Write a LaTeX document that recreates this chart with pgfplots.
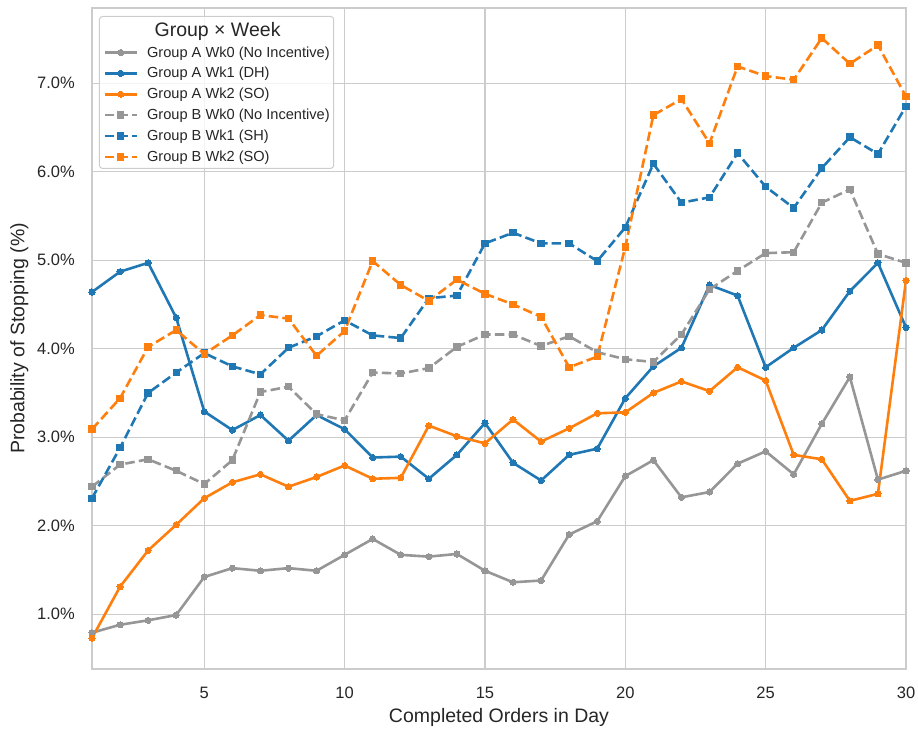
\documentclass[border=0pt]{standalone}
\usepackage{fontspec}
\setmainfont{Liberation Sans}
\usepackage{pgfplots}
\pgfplotsset{compat=1.18}
\usepackage{pgfplotstable}
\definecolor{cblue}{HTML}{1F77B4}
\definecolor{corange}{HTML}{FF7F0E}
\definecolor{cgray}{HTML}{969696}
\definecolor{gridc}{HTML}{CCCCCC}
\definecolor{txt}{HTML}{262626}

\pgfplotstableread{
x  a0   a1   a2   b0   b1   b2
1  0.79 4.64 0.73 2.44 2.31 3.09
2  0.88 4.87 1.31 2.69 2.88 3.44
3  0.93 4.97 1.72 2.75 3.50 4.02
4  0.99 4.35 2.01 2.62 3.73 4.21
5  1.42 3.29 2.31 2.47 3.95 3.94
6  1.52 3.08 2.49 2.74 3.80 4.15
7  1.49 3.25 2.58 3.51 3.71 4.38
8  1.52 2.96 2.44 3.57 4.01 4.34
9  1.49 3.25 2.55 3.26 4.14 3.92
10 1.67 3.09 2.68 3.19 4.32 4.20
11 1.85 2.77 2.53 3.73 4.15 4.99
12 1.67 2.78 2.54 3.72 4.12 4.72
13 1.65 2.53 3.13 3.78 4.57 4.54
14 1.68 2.80 3.01 4.02 4.60 4.78
15 1.49 3.16 2.93 4.16 5.19 4.62
16 1.36 2.71 3.20 4.16 5.31 4.50
17 1.38 2.51 2.95 4.03 5.19 4.36
18 1.90 2.80 3.10 4.14 5.19 3.79
19 2.05 2.87 3.27 3.96 4.99 3.91
20 2.56 3.44 3.28 3.88 5.37 5.15
21 2.74 3.80 3.50 3.85 6.09 6.64
22 2.32 4.01 3.63 4.16 5.65 6.82
23 2.38 4.72 3.52 4.67 5.71 6.32
24 2.70 4.60 3.79 4.88 6.21 7.19
25 2.84 3.79 3.64 5.08 5.83 7.08
26 2.58 4.01 2.80 5.09 5.59 7.04
27 3.15 4.21 2.75 5.65 6.04 7.51
28 3.68 4.65 2.28 5.80 6.39 7.22
29 2.52 4.97 2.36 5.07 6.20 7.43
30 2.62 4.24 4.77 4.97 6.74 6.85
}\datatab

\begin{document}
\begin{tikzpicture}
\begin{axis}[
  at={(0,0)}, anchor=south west,
  scale only axis, width=814pt, height=661pt,
  xmin=1, xmax=30, ymin=0.38, ymax=7.85,
  xtick={5,10,15,20,25,30},
  xticklabels={5,10,15,20,25,30},
  ytick={1,2,3,4,5,6,7},
  yticklabels={1.0\%,2.0\%,3.0\%,4.0\%,5.0\%,6.0\%,7.0\%},
  major tick length=0pt,
  grid=major,
  grid style={gridc, line width=1.2pt},
  axis line style={gridc, line width=1.2pt},
  tick label style={font=\fontsize{16.5}{20}\selectfont, text=txt},
  yticklabel style={anchor=east, inner sep=0pt, xshift=-17pt},
  xticklabel style={anchor=north, inner sep=0pt, yshift=-18pt},
  xlabel={Completed Orders in Day},
  ylabel={Probability of Stopping (\%)},
  every axis x label/.style={at={(axis description cs:0.5,0)}, anchor=north, inner sep=0pt, yshift=-39pt, font=\fontsize{19.5}{23}\selectfont, text=txt},
  every axis y label/.style={at={(axis description cs:-0.1007,0.5)}, rotate=90, anchor=north, inner sep=0pt, font=\fontsize{19.5}{23}\selectfont, text=txt},
  legend cell align=left,
  legend style={
    at={(axis description cs:0,1)}, anchor=north west, xshift=7pt, yshift=-8pt,
    draw=gridc, line width=1pt, rounded corners=3pt,
    fill=white, fill opacity=0.8, draw opacity=1, text opacity=1,
    font=\fontsize{14.6}{17}\selectfont, text=txt,
    inner xsep=4pt, inner ysep=5.5pt,
    row sep=8.8pt, column sep=9pt,
    nodes={inner sep=0pt},
  },
  legend image code/.code={
    \draw[#1, fill opacity=1, mark repeat=2, mark phase=2] plot coordinates {(0pt,0pt) (16pt,0pt) (32pt,0pt)};
  },
  every axis plot/.append style={line width=2.6pt, line join=round},
]
\addlegendimage{empty legend}
\addlegendentry{\hspace{7.5pt}\fontsize{19.5}{23}\selectfont Group × Week\rule[-6.5pt]{0pt}{1pt}}

\addplot[cgray, mark=*, mark size=3.1pt, mark options={solid, line width=0pt}] table[x=x,y=a0]{\datatab};
\addlegendentry{Group A Wk0 (No Incentive)}
\addplot[cblue, mark=*, mark size=3.1pt, mark options={solid, line width=0pt}] table[x=x,y=a1]{\datatab};
\addlegendentry{Group A Wk1 (DH)}
\addplot[corange, mark=*, mark size=3.1pt, mark options={solid, line width=0pt}] table[x=x,y=a2]{\datatab};
\addlegendentry{Group A Wk2 (SO)}
\addplot[cgray, dash pattern=on 9.5pt off 4.2pt, mark=square*, mark size=3.2pt, mark options={solid, line width=0pt}] table[x=x,y=b0]{\datatab};
\addlegendentry{Group B Wk0 (No Incentive)}
\addplot[cblue, dash pattern=on 9.5pt off 4.2pt, mark=square*, mark size=3.2pt, mark options={solid, line width=0pt}] table[x=x,y=b1]{\datatab};
\addlegendentry{Group B Wk1 (SH)}
\addplot[corange, dash pattern=on 9.5pt off 4.2pt, mark=square*, mark size=3.2pt, mark options={solid, line width=0pt}] table[x=x,y=b2]{\datatab};
\addlegendentry{Group B Wk2 (SO)}
\end{axis}
\pgfresetboundingbox
\path (-92pt,-59pt) rectangle (826pt,669pt);
\end{tikzpicture}
\end{document}
